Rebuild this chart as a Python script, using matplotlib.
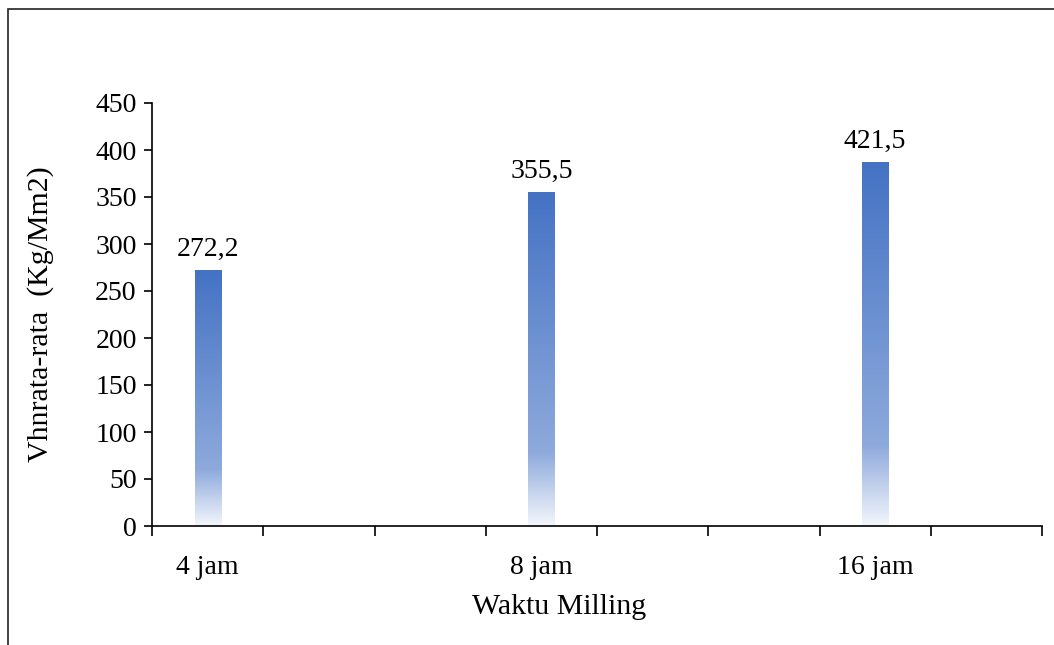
import matplotlib.pyplot as plt
import numpy as np
from matplotlib.colors import LinearSegmentedColormap
from matplotlib.patches import Rectangle

plt.rcParams['font.family'] = ['Liberation Serif', 'DejaVu Serif']

# data
categories = ['4 jam', '', '', '8 jam', '', '', '16 jam', '']
bar_heights = [272.2, None, None, 355.5, None, None, 387.0, None]
bar_labels = ['272,2', '', '', '355,5', '', '', '421,5', '']

# excel-like gradient fill: white at the bottom, blue at the top
grad = LinearSegmentedColormap.from_list(
    'bar_grad', [(0.0, '#f3f6fc'), (0.22, '#8eaadc'), (1.0, '#4472c4')])

fig = plt.figure(figsize=(10.54, 6.45), dpi=100)
ax = fig.add_axes([152 / 1054, 119 / 645, 890 / 1054, 423 / 645])

xs = [i for i, h in enumerate(bar_heights) if h is not None]
hs = [h for h in bar_heights if h is not None]
labs = [bar_labels[i] for i in xs]
bars = ax.bar(xs, hs, width=0.235, color='none', edgecolor='none', zorder=2)

ramp = np.linspace(0, 1, 256).reshape(-1, 1)
for b, lab in zip(bars, labs):
    x0, w, h = b.get_x(), b.get_width(), b.get_height()
    im = ax.imshow(ramp, cmap=grad, origin='lower', aspect='auto',
                   extent=[x0, x0 + w, 0, h], zorder=2, interpolation='bilinear')
    im.set_clip_path(b)
    ax.annotate(lab, (x0 + w / 2, h), xytext=(0, 6), textcoords='offset points',
                ha='center', va='bottom', fontsize=20)

ax.set_xlim(-0.5, 7.5)
ax.set_ylim(0, 450)
ax.set_yticks(np.arange(0, 451, 50))
ax.set_xticks(np.arange(-0.5, 8, 1))
ax.set_xticklabels([])
ax.set_xticks(range(len(categories)), minor=True)
ax.set_xticklabels(categories, minor=True)
ax.tick_params(axis='x', which='minor', length=0, pad=21, labelsize=20)
ax.tick_params(axis='x', which='major', length=7, width=1.2, direction='out')
ax.tick_params(axis='y', length=6, width=1.2, direction='out', pad=5, labelsize=20)

for s in ['top', 'right']:
    ax.spines[s].set_visible(False)
for s in ['left', 'bottom']:
    ax.spines[s].set_linewidth(1.2)

ax.set_ylabel('Vhnrata-rata  (Kg/Mm2)', fontsize=21.5, labelpad=30)
ax.set_xlabel('Waktu Milling', fontsize=21.5, labelpad=10)
ax.xaxis.label.set_x(0.458)

# outer chart frame (cropped at the right and bottom)
fig.patches.append(Rectangle((8 / 1054, -0.1), 1.2, (645 - 9) / 645 + 0.1,
                             transform=fig.transFigure, fill=False,
                             edgecolor='#222222', linewidth=1.2))

fig.savefig('out.png', dpi=100)
